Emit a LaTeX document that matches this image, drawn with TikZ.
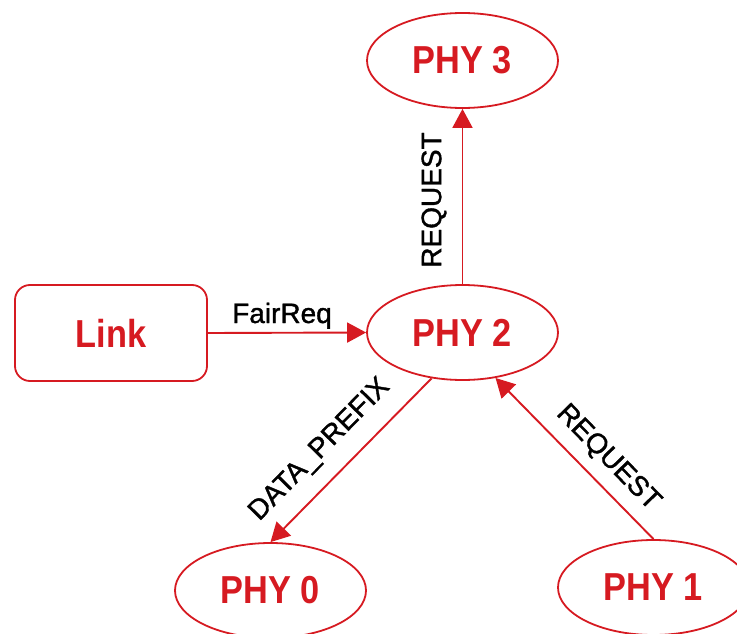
\documentclass[tikz,border=0pt]{standalone}
\usepackage{fontspec}
\setmainfont{Liberation Sans}
\newfontfamily\titlefont[FakeStretch=0.88]{Liberation Sans}
\newfontfamily\labelfont[FakeBold=1.3]{Liberation Sans}
\usetikzlibrary{shapes.geometric,arrows.meta,calc}
\definecolor{phyred}{RGB}{214,26,33}
\tikzset{
  phy/.style={ellipse, draw=phyred, line width=1.8pt, minimum width=191pt,
    minimum height=95pt, inner sep=0pt, text=phyred,
    font=\titlefont\fontsize{39}{39}\selectfont\bfseries},
  linkbox/.style={rectangle, rounded corners=15pt, draw=phyred, line width=1.8pt,
    minimum width=192pt, minimum height=96pt, inner sep=0pt, text=phyred,
    font=\titlefont\fontsize{39}{39}\selectfont\bfseries},
  flow/.style={draw=phyred, line width=1.9pt,
    -{Triangle[length=19pt,width=20pt]}},
  msg/.style={font=\labelfont\fontsize{28}{28}\selectfont, text=black, inner sep=0pt}
}
\begin{document}
\begin{tikzpicture}[x=1pt,y=-1pt]
  \useasboundingbox (0,0) rectangle (737,634);

  % nodes
  \node[phy] (phy3) at (462.5,60.5) {PHY 3};
  \node[phy] (phy2) at (462.5,332.5) {PHY 2};
  \node[linkbox] (link) at (111,333) {Link};
  \node[phy] (phy0) at (270.5,590.5) {PHY 0};
  \node[phy] (phy1) at (653.5,587.5) {PHY 1};

  % connectors
  \draw[flow] (link.east) -- (phy2.west);
  \draw[flow] (phy2.north) -- (phy3.south);
  \draw[flow] (phy2.236) -- (phy0.north);
  \draw[flow] (phy1.north) -- (phy2.306);

  % message labels
  \node[msg, anchor=base] (lfair) at (282,323) {FairReq};
  \node[msg, rotate=90] (lreq3) at (434,200) {REQUEST};
  \node[msg, rotate=45.5] (ldata) at (320,450) {DATA\_PREFIX};
  \node[msg, rotate=-45.7] (lreq1) at (608,458) {REQUEST};
\end{tikzpicture}
\end{document}
